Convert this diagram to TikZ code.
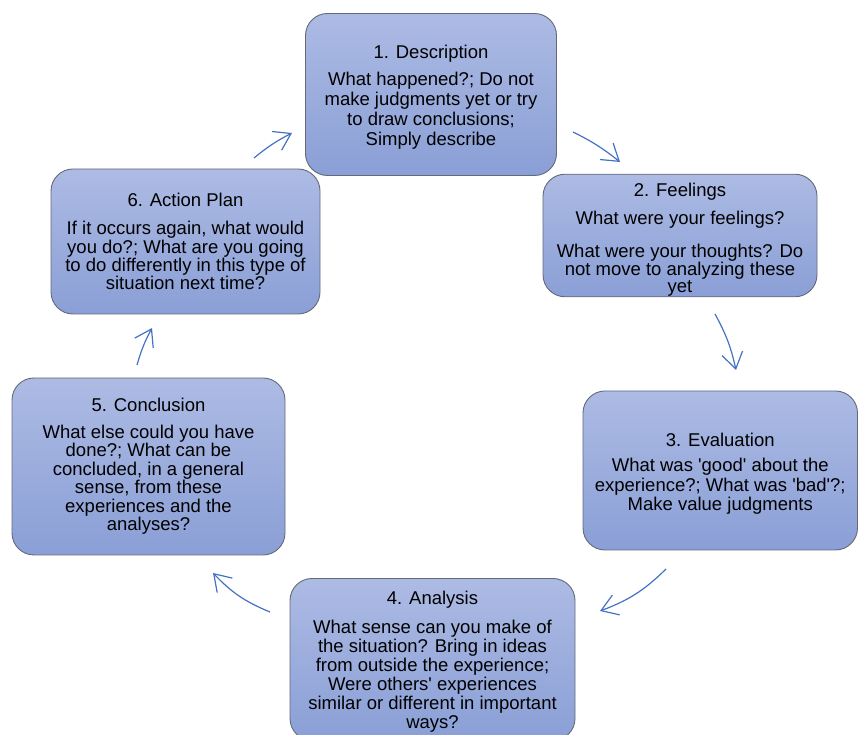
\documentclass[tikz,border=0pt]{standalone}
\usepackage{fontspec}
\setmainfont{Liberation Sans}
\usetikzlibrary{arrows.meta}
\definecolor{boxtop}{RGB}{173,187,228}
\definecolor{boxbot}{RGB}{138,159,214}
\definecolor{boxline}{RGB}{100,106,122}
\definecolor{arr}{RGB}{68,114,196}
\newcommand{\lift}[1]{\rule{0pt}{#1}}
\begin{document}
\begin{tikzpicture}[x=1pt,y=1pt,
  stage/.style={rectangle, rounded corners=22pt, draw=boxline, line width=0.9pt,
    top color=boxtop, bottom color=boxbot, align=center, inner sep=0pt,
    font=\fontsize{18.5}{#1}\selectfont},
  stage/.default=19,
  cyc/.style={draw=arr, line width=1.2pt, -{Straight Barb[length=16pt,width=21pt]}, bend left=#1},
  cyc/.default=12]
\useasboundingbox (0,0) rectangle (858,735);
\clip (0,0) rectangle (858,735);

\node[stage=20, minimum width=251pt, minimum height=162pt] (desc) at (431,640.5)
  {\lift{19.5pt}1. Description\\[7pt]What happened?; Do not\\make judgments yet or try\\to draw conclusions;\\Simply describe};
\node[stage=17, minimum width=274pt, minimum height=121pt] (feel) at (680,499.5)
  {\lift{22pt}2. Feelings\\[10pt]What were your feelings?\\[15pt]What were your thoughts? Do\\not move to analyzing these\\yet};
\node[stage=19.5, minimum width=274.5pt, minimum height=159pt] (eval) at (720.25,264.5)
  {\lift{19.5pt}3. Evaluation\\[6pt]What was \textquotesingle good\textquotesingle{} about the\\experience?; What was \textquotesingle bad\textquotesingle?;\\Make value judgments};
\node[stage=19, minimum width=285pt, minimum height=162pt] (anal) at (432.5,75.5)
  {\lift{17.5pt}4. Analysis\\[10pt]What sense can you make of\\the situation? Bring in ideas\\from outside the experience;\\Were others\textquotesingle{} experiences\\similar or different in important\\ways?};
\node[stage=18.5, minimum width=273pt, minimum height=177pt] (conc) at (148.5,268.5)
  {5. Conclusion\\[8pt]What else could you have\\done?; What can be\\concluded, in a general\\sense, from these\\experiences and the\\analyses?};
\node[stage=18.3, minimum width=269pt, minimum height=145pt] (plan) at (185.5,493.5)
  {6. Action Plan\\[10pt]If it occurs again, what would\\you do?; What are you going\\to do differently in this type of\\situation next time?};

\coordinate (a1s) at (573,603); \coordinate (a1e) at (620,573);
\coordinate (a2s) at (715,421); \coordinate (a2e) at (736,365);
\coordinate (a3s) at (666,166); \coordinate (a3e) at (600,124);
\coordinate (a4s) at (270,123); \coordinate (a4e) at (213,162);
\coordinate (a5s) at (137,370); \coordinate (a5e) at (152,407);
\coordinate (a6s) at (254,577); \coordinate (a6e) at (292,602);

\draw[cyc=6] (a1s) to (a1e);
\draw[cyc=8] (a2s) to (a2e);
\draw[cyc=12] (a3s) to (a3e);
\draw[cyc=12] (a4s) to (a4e);
\draw[cyc=6] (a5s) to (a5e);
\draw[cyc=6] (a6s) to (a6e);
\end{tikzpicture}
\end{document}
